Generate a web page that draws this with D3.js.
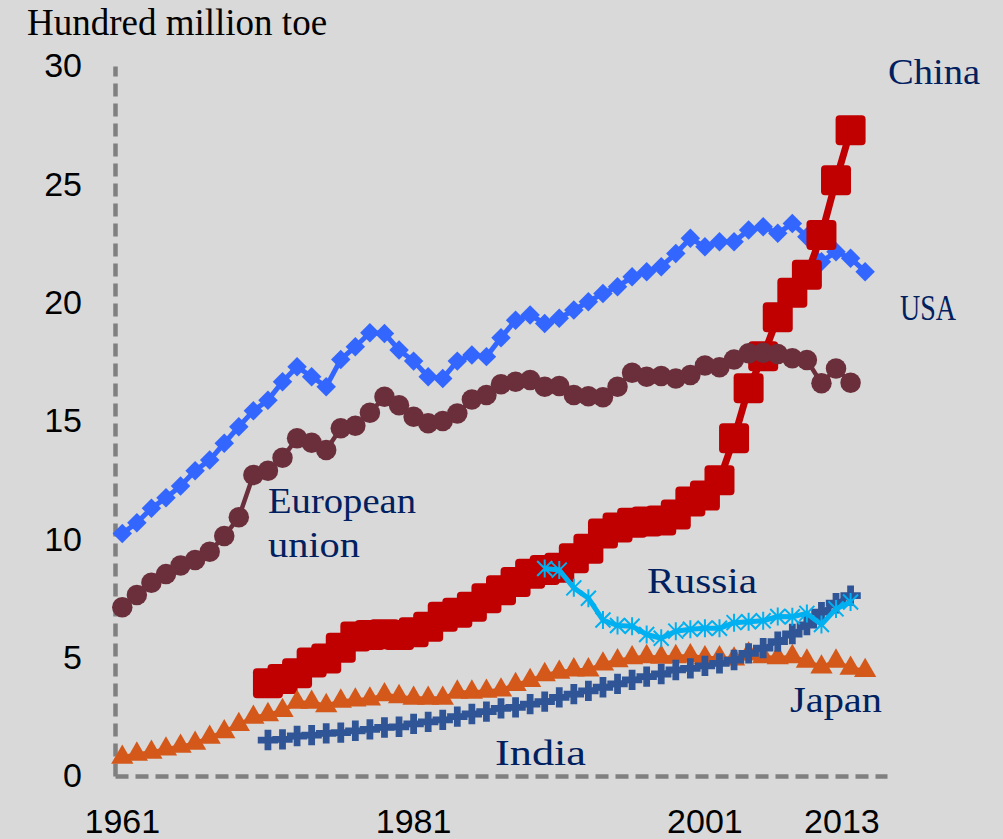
<!DOCTYPE html>
<html>
<head>
<meta charset="utf-8">
<script src="https://cdn.jsdelivr.net/npm/d3@7"></script>
<style>
  html, body { margin: 0; padding: 0; background: #d9d9d9; }
  svg { display: block; }
</style>
</head>
<body>
<svg id="chart" width="1003" height="839"></svg>
<script>
// Primary energy consumption, hundred million tonnes of oil equivalent
const years = d3.range(1961, 2014);          // category axis 1961..2013
const yTicks = [0, 5, 10, 15, 20, 25, 30];
const xTickLabels = [1961, 1981, 2001, 2013];

const usaStart = 1961;
const usa = [10.25, 10.70, 11.31, 11.76, 12.25, 12.90, 13.35, 14.06, 14.76, 15.43,
             15.88, 16.66, 17.29, 16.87, 16.45, 17.60, 18.14, 18.73, 18.70, 18.00,
             17.53, 16.87, 16.80, 17.53, 17.79, 17.72, 18.52, 19.26, 19.48, 19.12,
             19.34, 19.69, 20.04, 20.39, 20.67, 21.09, 21.31, 21.52, 22.08, 22.72,
             22.36, 22.57, 22.57, 23.07, 23.21, 22.93, 23.35, 22.79, 21.73, 22.15,
             21.88, 21.31];

const euStart = 1961;
const eu = [7.13, 7.65, 8.17, 8.53, 8.89, 9.13, 9.48, 10.14, 10.93, 12.72,
            12.90, 13.45, 14.27, 14.08, 13.77, 14.69, 14.80, 15.35, 16.02, 15.67,
            15.18, 14.90, 15.00, 15.32, 15.91, 16.10, 16.55, 16.66, 16.73, 16.45,
            16.48, 16.10, 16.05, 16.00, 16.45, 17.04, 16.87, 16.90, 16.80, 16.94,
            17.34, 17.27, 17.60, 17.86, 17.88, 17.83, 17.65, 17.58, 16.59, 17.22,
            16.62];

const chinaStart = 1971;
const china = [3.92, 4.10, 4.34, 4.80, 4.97, 5.42, 5.89, 5.96, 5.99, 5.96,
               6.07, 6.31, 6.73, 6.90, 7.15, 7.51, 7.85, 8.20, 8.55, 8.70,
               8.80, 9.20, 9.60, 10.25, 10.50, 10.70, 10.75, 10.80, 11.05, 11.60,
               11.85, 12.50, 14.27, 16.38, 17.74, 19.38, 20.42, 21.18, 22.86, 25.17,
               27.28];

const russiaStart = 1990;
const russia = [8.77, 8.70, 7.95, 7.51, 6.59, 6.36, 6.33, 5.98, 5.82, 6.12,
                6.20, 6.24, 6.24, 6.48, 6.52, 6.56, 6.74, 6.73, 6.87, 6.40,
                7.06, 7.35];

const japanStart = 1961;
const japan = [0.79, 0.92, 1.00, 1.14, 1.25, 1.38, 1.63, 1.87, 2.17, 2.48,
               2.59, 2.76, 3.11, 3.11, 2.97, 3.16, 3.21, 3.25, 3.43, 3.35,
               3.28, 3.28, 3.28, 3.54, 3.54, 3.58, 3.63, 3.86, 4.03, 4.28,
               4.38, 4.48, 4.48, 4.73, 4.87, 4.99, 5.04, 5.01, 5.04, 5.08,
               4.99, 4.99, 4.94, 5.15, 5.04, 4.99, 5.04, 4.85, 4.60, 4.85,
               4.55, 4.45];

const indiaStart = 1971;
const india = [1.52, 1.55, 1.69, 1.73, 1.80, 1.83, 1.91, 1.97, 2.05, 2.08,
               2.20, 2.29, 2.37, 2.51, 2.62, 2.72, 2.86, 2.90, 3.04, 3.14,
               3.32, 3.46, 3.60, 3.75, 3.89, 4.06, 4.20, 4.31, 4.48, 4.55,
               4.65, 4.76, 4.90, 5.18, 5.40, 5.68, 6.00, 6.38, 6.92, 7.30,
               7.62];

// Series in drawing order (later ones sit on top)
const series = [
  { name: "USA",    start: usaStart,    values: usa,    color: "#3366ff", width: 5,   marker: "diamond" },
  { name: "China",  start: chinaStart,  values: china,  color: "#c00000", width: 7,   marker: "square" },
  { name: "EU",     start: euStart,     values: eu,     color: "#6b2f3c", width: 4.5, marker: "circle" },
  { name: "Japan",  start: japanStart,  values: japan,  color: "#d4581a", width: 4,   marker: "triangle" },
  { name: "India",  start: indiaStart,  values: india,  color: "#2f5597", width: 4.5, marker: "cross" },
  { name: "Russia", start: russiaStart, values: russia, color: "#00b0f0", width: 5,   marker: "asterisk" }
];

// Text labels placed beside the lines
const seriesLabels = [
  { lines: ["China"],             x: 888, y: 84,  w: [92] },
  { lines: ["USA"],               x: 900, y: 320, w: [56] },
  { lines: ["European", "union"], x: 268, y: 513, w: [148, 92], lh: 44 },
  { lines: ["Russia"],            x: 647, y: 593, w: [110] },
  { lines: ["Japan"],             x: 790, y: 712, w: [92] },
  { lines: ["India"],             x: 495, y: 765, w: [91] }
];

const svg = d3.select("#chart");
const W = 1003, H = 839;
svg.append("rect").attr("width", W).attr("height", H).attr("fill", "#d9d9d9");

const x = d3.scaleBand().domain(years).range([115, 887]).paddingInner(0).paddingOuter(0);
const xc = yr => x(yr) + x.bandwidth() / 2;
const y = d3.scaleLinear().domain([0, 30]).range([776, 66]);

// Axes
const axisColor = "#808080";
const yAxis = svg.append("g")
  .attr("transform", `translate(${x.range()[0]},0)`)
  .call(d3.axisLeft(y).tickValues(yTicks).tickSize(0).tickSizeOuter(0).tickPadding(33));
yAxis.select(".domain").attr("stroke", axisColor).attr("stroke-width", 4.5)
  .attr("stroke-dasharray", "13,7");
yAxis.selectAll("text")
  .attr("font-family", "'Liberation Sans', Arial, sans-serif")
  .attr("font-size", 34).attr("fill", "#000");

const xAxis = svg.append("g")
  .attr("transform", `translate(0,${y(0)})`)
  .call(d3.axisBottom(x).tickValues(xTickLabels).tickSize(0).tickSizeOuter(0).tickPadding(33));
xAxis.select(".domain").attr("stroke", axisColor).attr("stroke-width", 4.5)
  .attr("stroke-dasharray", "13,7");
xAxis.selectAll("text")
  .attr("font-family", "'Liberation Sans', Arial, sans-serif")
  .attr("font-size", 34).attr("fill", "#000");
// Last year label ends at its category centre
xAxis.selectAll(".tick").filter(d => d === 2013).select("text").attr("text-anchor", "end");

// Unit title
svg.append("text")
  .attr("x", 27).attr("y", 35)
  .attr("font-family", "'Liberation Serif', 'Times New Roman', serif")
  .attr("font-size", 37).attr("fill", "#000")
  .text("Hundred million toe");

// Marker shapes
const symbolPath = {
  diamond: d3.symbol(d3.symbolSquare, 190)(),
  circle: d3.symbol(d3.symbolCircle, 330)(),
  triangle: d3.symbol(d3.symbolTriangle, 215)(),
  cross: d3.symbol(d3.symbolCross, 230)()
};
const asteriskPath = "M0,-9L0,9M-7.5,-7.5L7.5,7.5M-7.5,7.5L7.5,-7.5";

series.forEach(s => {
  const pts = s.values.map((v, i) => ({ year: s.start + i, value: v }));
  const g = svg.append("g").attr("class", "series");
  const line = d3.line().x(d => xc(d.year)).y(d => y(d.value));
  g.append("path").datum(pts)
    .attr("d", line)
    .attr("fill", "none")
    .attr("stroke", s.color)
    .attr("stroke-width", s.width)
    .attr("stroke-linejoin", "round");

  const m = g.selectAll(".mk").data(pts).enter();
  if (s.marker === "square") {
    m.append("rect")
      .attr("x", d => xc(d.year) - 15).attr("y", d => y(d.value) - 15)
      .attr("width", 30).attr("height", 30).attr("rx", 4)
      .attr("fill", s.color);
  } else if (s.marker === "asterisk") {
    m.append("path")
      .attr("transform", d => `translate(${xc(d.year)},${y(d.value)})`)
      .attr("d", asteriskPath)
      .attr("fill", "none").attr("stroke", s.color).attr("stroke-width", 2);
  } else {
    m.append("path")
      .attr("transform", d => `translate(${xc(d.year)},${y(d.value)})` + (s.marker === "diamond" ? " rotate(45)" : ""))
      .attr("d", symbolPath[s.marker])
      .attr("fill", s.color);
  }
});

// Series name labels
seriesLabels.forEach(l => {
  l.lines.forEach((t, i) => {
    svg.append("text")
      .attr("x", l.x).attr("y", l.y + i * (l.lh || 0))
      .attr("font-family", "'Liberation Serif', 'Times New Roman', serif")
      .attr("font-size", 36).attr("fill", "#002060")
      .attr("textLength", l.w[i]).attr("lengthAdjust", "spacingAndGlyphs")
      .text(t);
  });
});
</script>
</body>
</html>
